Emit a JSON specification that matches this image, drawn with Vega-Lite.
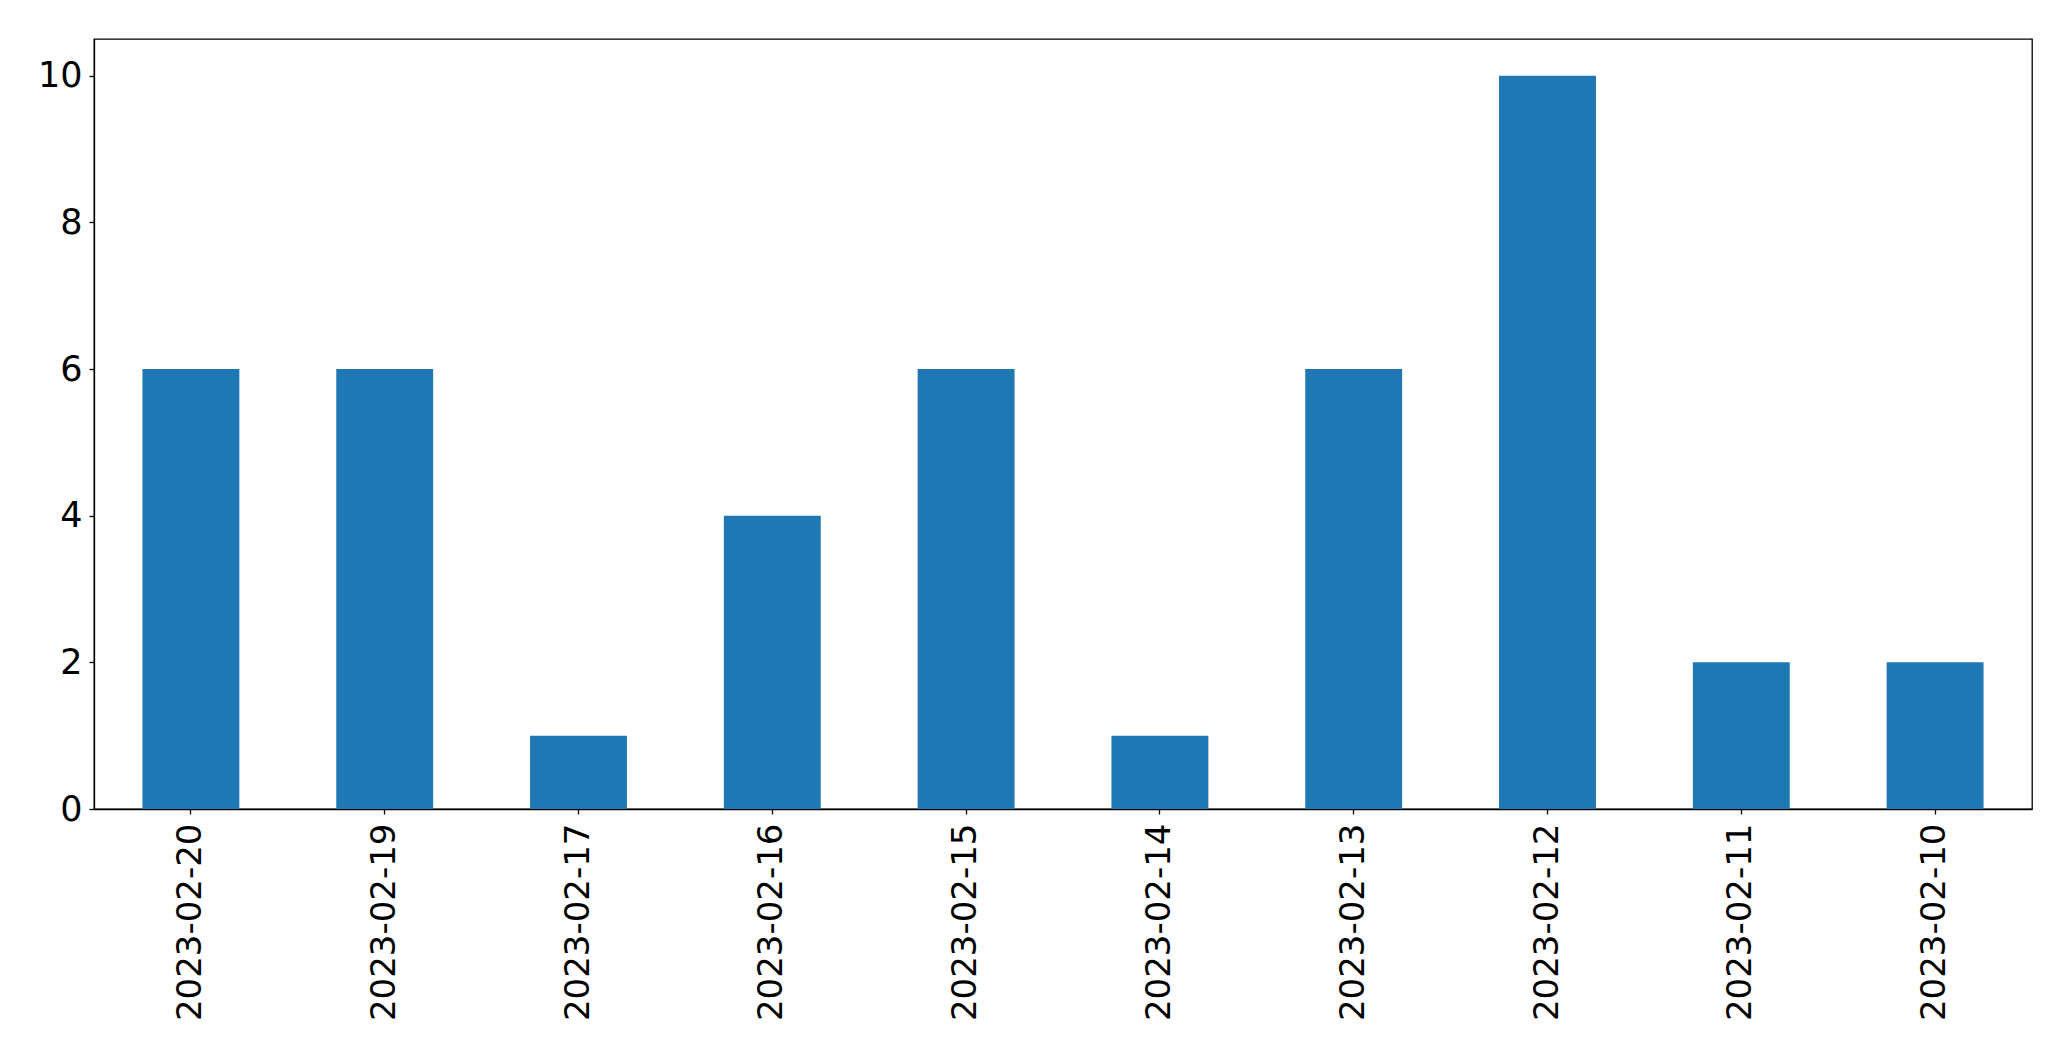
{
  "$schema": "https://vega.github.io/schema/vega-lite/v6.json",
  "autosize": "none",
  "width": 1938,
  "height": 770,
  "padding": {"left": 94, "top": 39, "right": 39, "bottom": 252},
  "background": "white",
  "config": {
    "view": {"stroke": "black", "strokeWidth": 1.3},
    "font": "DejaVu Sans"
  },
  "data": {
    "values": [
      {"date": "2023-02-20", "count": 6},
      {"date": "2023-02-19", "count": 6},
      {"date": "2023-02-17", "count": 1},
      {"date": "2023-02-16", "count": 4},
      {"date": "2023-02-15", "count": 6},
      {"date": "2023-02-14", "count": 1},
      {"date": "2023-02-13", "count": 6},
      {"date": "2023-02-12", "count": 10},
      {"date": "2023-02-11", "count": 2},
      {"date": "2023-02-10", "count": 2}
    ]
  },
  "mark": {"type": "bar", "color": "#1f77b4"},
  "encoding": {
    "x": {
      "field": "date",
      "type": "nominal",
      "sort": null,
      "scale": {"paddingInner": 0.5, "paddingOuter": 0.25},
      "axis": {
        "title": null,
        "labelAngle": 270,
        "labelFont": "DejaVu Sans",
        "labelFontSize": 34,
        "labelLimit": 0,
        "labelColor": "black",
        "labelPadding": 9,
        "tickSize": 5,
        "tickColor": "black",
        "tickWidth": 1.3,
        "domainColor": "black",
        "domainWidth": 1.3,
        "grid": false
      }
    },
    "y": {
      "field": "count",
      "type": "quantitative",
      "scale": {"domain": [0, 10.5], "nice": false},
      "axis": {
        "title": null,
        "values": [0, 2, 4, 6, 8, 10],
        "labelFont": "DejaVu Sans",
        "labelFontSize": 35,
        "labelColor": "black",
        "labelPadding": 7,
        "tickSize": 5,
        "tickColor": "black",
        "tickWidth": 1.3,
        "domainColor": "black",
        "domainWidth": 1.3,
        "grid": false
      }
    }
  }
}
